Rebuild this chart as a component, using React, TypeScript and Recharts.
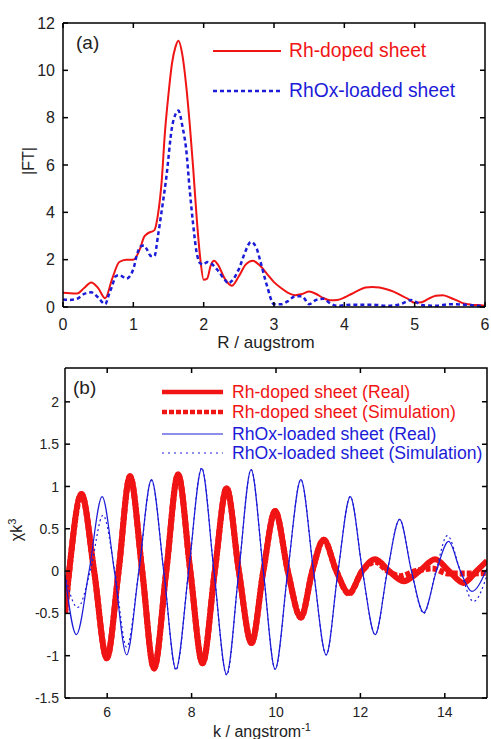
import React from 'react';
import { LineChart, Line, XAxis, YAxis } from 'recharts';

const FONT = '"Liberation Sans", Arial, sans-serif';
const RED = '#f01414';
const BLUE = '#1c1cd8';
const INK = '#222';

// ---- panel (a): |FT| vs R ----
const rDoped = [0, 0.1, 0.2, 0.3, 0.4, 0.5, 0.6, 0.7, 0.8, 0.9, 1.0, 1.1, 1.15, 1.2, 1.3, 1.35, 1.4, 1.45, 1.5, 1.55, 1.6, 1.64, 1.7, 1.75, 1.8, 1.85, 1.9, 1.95, 2.0, 2.05, 2.1, 2.15, 2.2, 2.3, 2.4, 2.5, 2.6, 2.7, 2.8, 2.9, 3.0, 3.1, 3.2, 3.3, 3.4, 3.5, 3.6, 3.7, 3.8, 3.9, 4.0, 4.1, 4.2, 4.3, 4.4, 4.5, 4.6, 4.7, 4.8, 4.9, 5.0, 5.1, 5.2, 5.3, 5.4, 5.5, 5.6, 5.7, 5.8, 5.9, 6.0];
const ftDoped = [0.6, 0.58, 0.57, 0.8, 1.04, 0.8, 0.37, 1.2, 1.9, 2.0, 2.0, 2.5, 2.95, 3.1, 3.25, 3.9, 5.2, 7.4, 9.0, 10.3, 11.0, 11.25, 10.6, 9.4, 7.8, 5.9, 3.8, 2.1, 1.15, 1.2, 1.75, 1.95, 1.8, 1.2, 0.9, 1.3, 1.8, 1.95, 1.75, 1.4, 1.05, 0.8, 0.6, 0.5, 0.55, 0.65, 0.55, 0.38, 0.28, 0.3, 0.4, 0.55, 0.7, 0.82, 0.85, 0.82, 0.75, 0.65, 0.5, 0.35, 0.18, 0.2, 0.35, 0.48, 0.5, 0.4, 0.28, 0.15, 0.1, 0.08, 0.05];

const rLoaded = [0, 0.1, 0.2, 0.3, 0.4, 0.5, 0.6, 0.65, 0.7, 0.75, 0.8, 0.9, 1.0, 1.05, 1.1, 1.15, 1.2, 1.25, 1.3, 1.35, 1.4, 1.47, 1.55, 1.6, 1.64, 1.7, 1.75, 1.8, 1.85, 1.9, 1.95, 2.0, 2.05, 2.1, 2.2, 2.3, 2.35, 2.4, 2.5, 2.6, 2.67, 2.75, 2.8, 2.9, 3.0, 3.1, 3.2, 3.3, 3.4, 3.5, 3.6, 3.7, 3.8, 3.9, 4.0, 4.2, 4.4, 4.6, 4.8, 4.9, 4.95, 5.0, 5.1, 5.3, 5.5, 5.7, 5.9, 6.0];
const ftLoaded = [0.32, 0.3, 0.35, 0.55, 0.62, 0.4, 0.12, 0.5, 0.9, 1.3, 1.35, 1.2, 1.6, 2.2, 2.55, 2.6, 2.4, 2.15, 2.15, 3.0, 4.0, 5.5, 7.6, 8.15, 8.3, 7.6, 6.7, 5.0, 3.5, 2.3, 1.85, 1.8, 1.9, 1.85, 1.55, 1.15, 1.0, 1.1, 1.6, 2.4, 2.75, 2.5, 2.0, 0.9, 0.12, 0.12, 0.25, 0.45, 0.45, 0.12, 0.3, 0.35, 0.15, 0.05, 0.08, 0.1, 0.1, 0.05, 0.12, 0.25, 0.3, 0.25, 0.08, 0.05, 0.12, 0.1, 0.05, 0.03];

const rTicks = [0, 1, 2, 3, 4, 5, 6];
const ftTicks = [0, 2, 4, 6, 8, 10, 12];

// ---- panel (b): chi k^3 vs k ----
const kRedReal = [5.0, 5.1, 5.39, 5.69, 5.99, 6.27, 6.54, 6.83, 7.11, 7.4, 7.68, 7.97, 8.26, 8.55, 8.83, 9.12, 9.42, 9.7, 9.98, 10.28, 10.59, 10.86, 11.13, 11.43, 11.73, 12.04, 12.35, 12.68, 13.02, 13.4, 13.77, 14.1, 14.44, 14.75, 15.0];
const chiRedReal = [-0.5, 0, 0.91, 0, -1.03, 0, 1.12, 0, -1.15, 0, 1.14, 0, -1.09, 0, 0.98, 0, -0.85, 0, 0.71, 0, -0.55, 0, 0.37, 0, -0.26, 0, 0.14, 0, -0.12, 0, 0.14, 0, -0.14, 0, 0.12];

const kRedSim = [5.0, 5.1, 5.39, 5.69, 5.99, 6.27, 6.54, 6.83, 7.11, 7.4, 7.68, 7.97, 8.26, 8.55, 8.83, 9.12, 9.42, 9.7, 9.98, 10.28, 10.59, 10.86, 11.13, 11.43, 11.73, 12.04, 12.35, 12.65, 12.95, 13.3, 13.7, 14.1, 14.5, 15.0];
const chiRedSim = [-0.5, 0, 0.91, 0, -1.03, 0, 1.12, 0, -1.15, 0, 1.14, 0, -1.09, 0, 0.98, 0, -0.85, 0, 0.71, 0, -0.55, 0, 0.37, 0, -0.27, 0, 0.11, 0, -0.06, 0, 0.03, -0.03, -0.03, -0.02];

const kBlueReal = [5.0, 5.27, 5.57, 5.88, 6.17, 6.46, 6.75, 7.05, 7.34, 7.63, 7.93, 8.24, 8.53, 8.83, 9.12, 9.41, 9.7, 9.98, 10.28, 10.59, 10.89, 11.19, 11.47, 11.76, 12.05, 12.35, 12.64, 12.93, 13.21, 13.5, 13.8, 14.09, 14.37, 14.64, 15.0];
const chiBlueReal = [-0.05, -0.75, 0, 0.88, 0, -0.99, 0, 1.08, 0, -1.16, 0, 1.21, 0, -1.22, 0, 1.2, 0, -1.16, 0, 1.08, 0, -0.99, 0, 0.88, 0, -0.75, 0, 0.61, 0, -0.49, 0, 0.35, 0, -0.24, 0.03];

const kBlueSim = [5.0, 5.3, 5.6, 5.9, 6.18, 6.46, 6.75, 7.05, 7.34, 7.63, 7.93, 8.24, 8.53, 8.83, 9.12, 9.41, 9.7, 9.98, 10.28, 10.59, 10.89, 11.19, 11.47, 11.76, 12.05, 12.35, 12.64, 12.93, 13.21, 13.5, 13.79, 14.06, 14.37, 14.68, 15.0];
const chiBlueSim = [-0.05, -0.43, 0, 0.66, 0, -0.9, 0, 1.07, 0, -1.17, 0, 1.22, 0, -1.23, 0, 1.2, 0, -1.16, 0, 1.08, 0, -0.99, 0, 0.88, 0, -0.75, 0, 0.61, 0, -0.5, 0, 0.42, 0, -0.36, -0.05];

const kTicks = [6, 8, 10, 12, 14];
const chiTicks = [-1.5, -1, -0.5, 0, 0.5, 1, 1.5, 2];

const zip = (xs: number[], ys: number[]) => xs.map((x, i) => ({ x, y: ys[i] }));

const dopedData = zip(rDoped, ftDoped);
const loadedData = zip(rLoaded, ftLoaded);
const redRealData = zip(kRedReal, chiRedReal);
const redSimData = zip(kRedSim, chiRedSim);
const blueRealData = zip(kBlueReal, chiBlueReal);
const blueSimData = zip(kBlueSim, chiBlueSim);

// inward ticks, labels outside
const makeBottomTick = (size: number, gap: number) => ({ x, y, payload }: any) => (
  <g>
    <path d={`M${x},${y}V${y - 5}`} stroke="#000" strokeWidth={1.5} />
    <text x={x} y={y + gap} textAnchor="middle" fontSize={size} fontFamily={FONT} fill={INK}>
      {payload.value}
    </text>
  </g>
);

const makeLeftTick = (size: number, gap: number) => ({ x, y, payload }: any) => (
  <g>
    <path d={`M${x},${y}H${x + 5}`} stroke="#000" strokeWidth={1.5} />
    <text x={x - gap} y={y} dy="0.36em" textAnchor="end" fontSize={size} fontFamily={FONT} fill={INK}>
      {payload.value}
    </text>
  </g>
);

// plot box of each panel (matches margins / axis sizes below)
type Box = { l: number; t: number; r: number; b: number; xTicks: number[]; xLo: number; xHi: number; yTicks: number[]; yLo: number; yHi: number };

const BoxFrame = ({ box }: { box: Box }) => {
  const { l, t, r, b } = box;
  let d = `M${l},${t}H${r}V${b}`;
  box.xTicks.forEach((v) => {
    const tx = l + ((v - box.xLo) / (box.xHi - box.xLo)) * (r - l);
    d += `M${tx},${t}V${t + 5}`;
  });
  box.yTicks.forEach((v) => {
    const ty = b - ((v - box.yLo) / (box.yHi - box.yLo)) * (b - t);
    d += `M${r},${ty}H${r - 5}`;
  });
  return <path d={d} fill="none" stroke="#000" strokeWidth={1.5} />;
};

const boxA: Box = { l: 63, t: 23, r: 485, b: 307, xTicks: rTicks, xLo: 0, xHi: 6, yTicks: ftTicks, yLo: 0, yHi: 12 };
const boxB: Box = { l: 65, t: 8, r: 487, b: 338, xTicks: kTicks, xLo: 5, xHi: 15, yTicks: chiTicks, yLo: -1.5, yHi: 2.4 };

const txt = { fontFamily: FONT };

const xTitleA = () => (
  <text x={266} y={348} textAnchor="middle" fontSize={17} fill={INK} {...txt}>R / augstrom</text>
);

const yTitleA = () => (
  <g>
    <BoxFrame box={boxA} />
    <text x={28} y={161} textAnchor="middle" dy="0.36em" fontSize={16} fill={INK} transform="rotate(-90 28 161)" {...txt}>|FT|</text>
    <text x={76} y={49} fontSize={19} fill={INK} {...txt}>(a)</text>
    <line x1={213} y1={51} x2={281} y2={51} stroke={RED} strokeWidth={2} />
    <text x={289} y={57} fontSize={19.3} fill={RED} {...txt}>Rh-doped sheet</text>
    <line x1={213} y1={91} x2={281} y2={91} stroke={BLUE} strokeWidth={2.5} strokeDasharray="4 3" />
    <text x={289} y={97} fontSize={19.3} fill={BLUE} {...txt}>RhOx-loaded sheet</text>
  </g>
);

const legendRows = [
  { label: 'Rh-doped sheet (Real)', color: RED, width: 4.5, dash: undefined as string | undefined, y: 32 },
  { label: 'Rh-doped sheet (Simulation)', color: RED, width: 4.5, dash: '5 2', y: 52 },
  { label: 'RhOx-loaded sheet (Real)', color: BLUE, width: 1.2, dash: undefined, y: 74 },
  { label: 'RhOx-loaded sheet (Simulation)', color: BLUE, width: 1.2, dash: '2 4', y: 93 },
];

const xTitleB = () => (
  <text x={262} y={377} textAnchor="middle" fontSize={16} fill={INK} {...txt}>
    k / angstrom<tspan fontSize={11} dy={-6}>-1</tspan>
  </text>
);

const yTitleB = () => (
  <g>
    <BoxFrame box={boxB} />
    <text x={16} y={170} textAnchor="middle" dy="0.36em" fontSize={16} fill={INK} transform="rotate(-90 16 170)" {...txt}>
      χk<tspan fontSize={11} dy={-6}>3</tspan>
    </text>
    <text x={73} y={34} fontSize={19} fill={INK} {...txt}>(b)</text>
    {legendRows.map((r) => (
      <g key={r.label}>
        <line x1={162} y1={r.y} x2={223} y2={r.y} stroke={r.color} strokeWidth={r.width} strokeDasharray={r.dash} />
        <text x={232} y={r.y} dy="0.36em" fontSize={17.6} fill={r.color} {...txt}>{r.label}</text>
      </g>
    ))}
  </g>
);

const frame = { stroke: '#000', strokeWidth: 1.5 };

function PanelA() {
  return (
    <LineChart width={491} height={360} margin={{ top: 23, right: 6, left: 0, bottom: 0 }}>
      <XAxis dataKey="x" type="number" domain={[0, 6]} ticks={rTicks} allowDataOverflow height={53}
        axisLine={frame} tickLine={false} tickSize={0} tickMargin={0}
        tick={makeBottomTick(16, 23)} label={xTitleA} />
      <YAxis type="number" domain={[0, 12]} ticks={ftTicks} width={63}
        axisLine={frame} tickLine={false} tickSize={0} tickMargin={0}
        tick={makeLeftTick(16, 8)} label={yTitleA} />
      <Line data={dopedData} dataKey="y" type="monotone" stroke={RED} strokeWidth={2} dot={false} isAnimationActive={false} />
      <Line data={loadedData} dataKey="y" type="monotone" stroke={BLUE} strokeWidth={2.5} strokeDasharray="4 3" dot={false} isAnimationActive={false} />
    </LineChart>
  );
}

function PanelB() {
  return (
    <LineChart width={491} height={379} margin={{ top: 8, right: 4, left: 0, bottom: 0 }}>
      <XAxis dataKey="x" type="number" domain={[5, 15]} ticks={kTicks} allowDataOverflow height={41}
        axisLine={frame} tickLine={false} tickSize={0} tickMargin={0}
        tick={makeBottomTick(14, 18.5)} label={xTitleB} />
      <YAxis type="number" domain={[-1.5, 2.4]} ticks={chiTicks} width={65} allowDataOverflow
        axisLine={frame} tickLine={false} tickSize={0} tickMargin={0}
        tick={makeLeftTick(14, 6)} label={yTitleB} />
      <Line data={redRealData} dataKey="y" type="monotone" stroke={RED} strokeWidth={6} dot={false} isAnimationActive={false} />
      <Line data={redSimData} dataKey="y" type="monotone" stroke={RED} strokeWidth={6} strokeDasharray="5 2" dot={false} isAnimationActive={false} />
      <Line data={blueRealData} dataKey="y" type="monotone" stroke={BLUE} strokeWidth={1.2} dot={false} isAnimationActive={false} />
      <Line data={blueSimData} dataKey="y" type="monotone" stroke={BLUE} strokeWidth={1.2} strokeDasharray="2 3" dot={false} isAnimationActive={false} />
    </LineChart>
  );
}

export default function App() {
  return (
    <div style={{ position: 'absolute', left: 0, top: 0, width: 491, height: 739, background: '#fff' }}>
      <PanelA />
      <PanelB />
    </div>
  );
}
